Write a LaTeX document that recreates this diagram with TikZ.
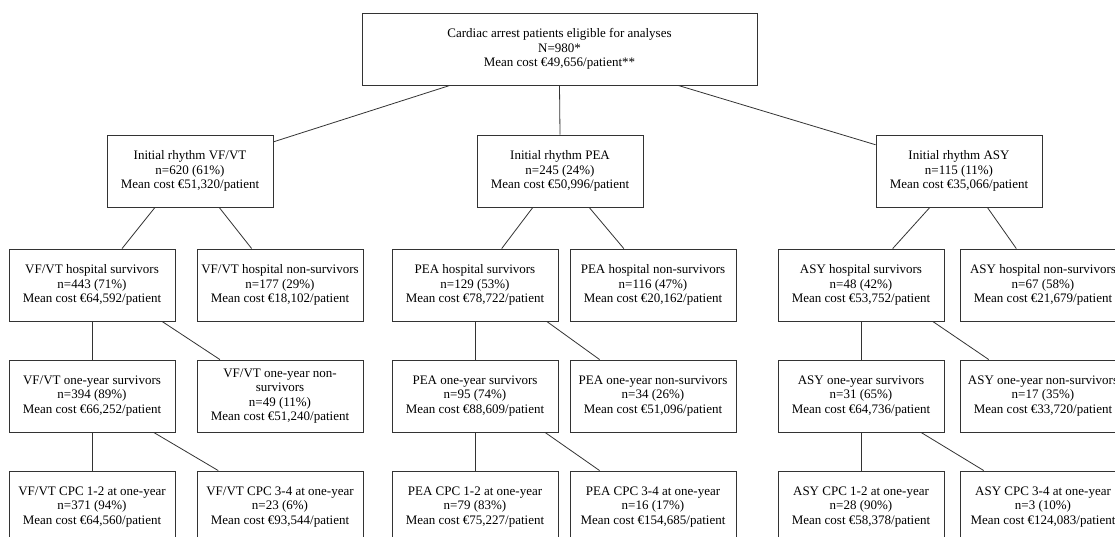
\documentclass[tikz,border=0pt]{standalone}
\usepackage{fontspec}
\setmainfont{Liberation Serif}
\usetikzlibrary{calc}
\tikzset{
  box/.style={draw=black!80, line width=0.9pt, minimum width=166pt, minimum height=72pt,
    inner sep=0pt, align=center, font={\fontsize{13}{14.5}\selectfont}, text=black},
  link/.style={draw=black!80, line width=0.8pt},
}
\newcommand\conn[4]{\draw[link] ($(#1.south west)!#2!(#1.south east)$) -- ($(#3.north west)!#4!(#3.north east)$);}
\begin{document}
\begin{tikzpicture}[x=1pt,y=-1pt]
\useasboundingbox (0,0) rectangle (1115,536);
\fill[white] (0,0) rectangle (1115,536);
% level 1
\node[box, minimum width=395pt] (top) at (559.5,49) {Cardiac arrest patients eligible for analyses\\N=980*\\Mean cost €49,656/patient**};
% level 2
\node[box] (vf) at (190,171) {Initial rhythm VF/VT\\n=620 (61\%)\\Mean cost €51,320/patient};
\node[box] (pea) at (560,171) {Initial rhythm PEA\\n=245 (24\%)\\Mean cost €50,996/patient};
\node[box] (asy) at (959,171) {Initial rhythm ASY\\n=115 (11\%)\\Mean cost €35,066/patient};
% level 3
\node[box] (vfhs) at (92,285) {VF/VT hospital survivors\\n=443 (71\%)\\Mean cost €64,592/patient};
\node[box] (vfhn) at (280,285) {VF/VT hospital non-survivors\\n=177 (29\%)\\Mean cost €18,102/patient};
\node[box] (peahs) at (475,285) {PEA hospital survivors\\n=129 (53\%)\\Mean cost €78,722/patient};
\node[box] (peahn) at (653,285) {PEA hospital non-survivors\\n=116 (47\%)\\Mean cost €20,162/patient};
\node[box] (asyhs) at (861,285) {ASY hospital survivors\\n=48 (42\%)\\Mean cost €53,752/patient};
\node[box] (asyhn) at (1043,285) {ASY hospital non-survivors\\n=67 (58\%)\\Mean cost €21,679/patient};
% level 4
\node[box] (vfys) at (92,396) {VF/VT one-year survivors\\n=394 (89\%)\\Mean cost €66,252/patient};
\node[box] (vfyn) at (280,396) {VF/VT one-year non-\\survivors\\n=49 (11\%)\\Mean cost €51,240/patient};
\node[box] (peays) at (475,396) {PEA one-year survivors\\n=95 (74\%)\\Mean cost €88,609/patient};
\node[box] (peayn) at (653,396) {PEA one-year non-survivors\\n=34 (26\%)\\Mean cost €51,096/patient};
\node[box] (asyys) at (861,396) {ASY one-year survivors\\n=31 (65\%)\\Mean cost €64,736/patient};
\node[box] (asyyn) at (1043,396) {ASY one-year non-survivors\\n=17 (35\%)\\Mean cost €33,720/patient};
% level 5
\node[box] (vfca) at (92,507) {VF/VT CPC 1-2 at one-year\\n=371 (94\%)\\Mean cost €64,560/patient};
\node[box] (vfcb) at (280,507) {VF/VT CPC 3-4 at one-year\\n=23 (6\%)\\Mean cost €93,544/patient};
\node[box] (peaca) at (475,507) {PEA CPC 1-2 at one-year\\n=79 (83\%)\\Mean cost €75,227/patient};
\node[box] (peacb) at (653,507) {PEA CPC 3-4 at one-year\\n=16 (17\%)\\Mean cost €154,685/patient};
\node[box] (asyca) at (861,507) {ASY CPC 1-2 at one-year\\n=28 (90\%)\\Mean cost €58,378/patient};
\node[box] (asycb) at (1043,507) {ASY CPC 3-4 at one-year\\n=3 (10\%)\\Mean cost €124,083/patient};
% connectors level 1 -> 2
\draw[link] ($(top.south west)!0.223!(top.south east)$) -- ($(vf.north east)!0.1!(vf.south east)$);
\draw[link] (top.south) -- (pea.north);
\draw[link] ($(top.south west)!0.8!(top.south east)$) -- ($(asy.north west)!0.14!(asy.south west)$);
% level 2 -> 3
\conn{vf}{0.29}{vfhs}{0.68}
\conn{vf}{0.675}{vfhn}{0.33}
\conn{pea}{0.337}{peahs}{0.66}
\conn{pea}{0.675}{peahn}{0.325}
\conn{asy}{0.325}{asyhs}{0.69}
\conn{asy}{0.67}{asyhn}{0.34}
% level 3 -> 4
\draw[link] (vfhs.south) -- (vfys.north);
\conn{vfhs}{0.92}{vfyn}{0.14}
\draw[link] (peahs.south) -- (peays.north);
\conn{peahs}{0.93}{peayn}{0.18}
\draw[link] (asyhs.south) -- (asyys.north);
\conn{asyhs}{0.93}{asyyn}{0.175}
% level 4 -> 5
\draw[link] (vfys.south) -- (vfca.north);
\conn{vfys}{0.87}{vfcb}{0.13}
\draw[link] (peays.south) -- (peaca.north);
\conn{peays}{0.92}{peacb}{0.18}
\draw[link] (asyys.south) -- (asyca.north);
\conn{asyys}{0.86}{asycb}{0.145}
\end{tikzpicture}
\end{document}
